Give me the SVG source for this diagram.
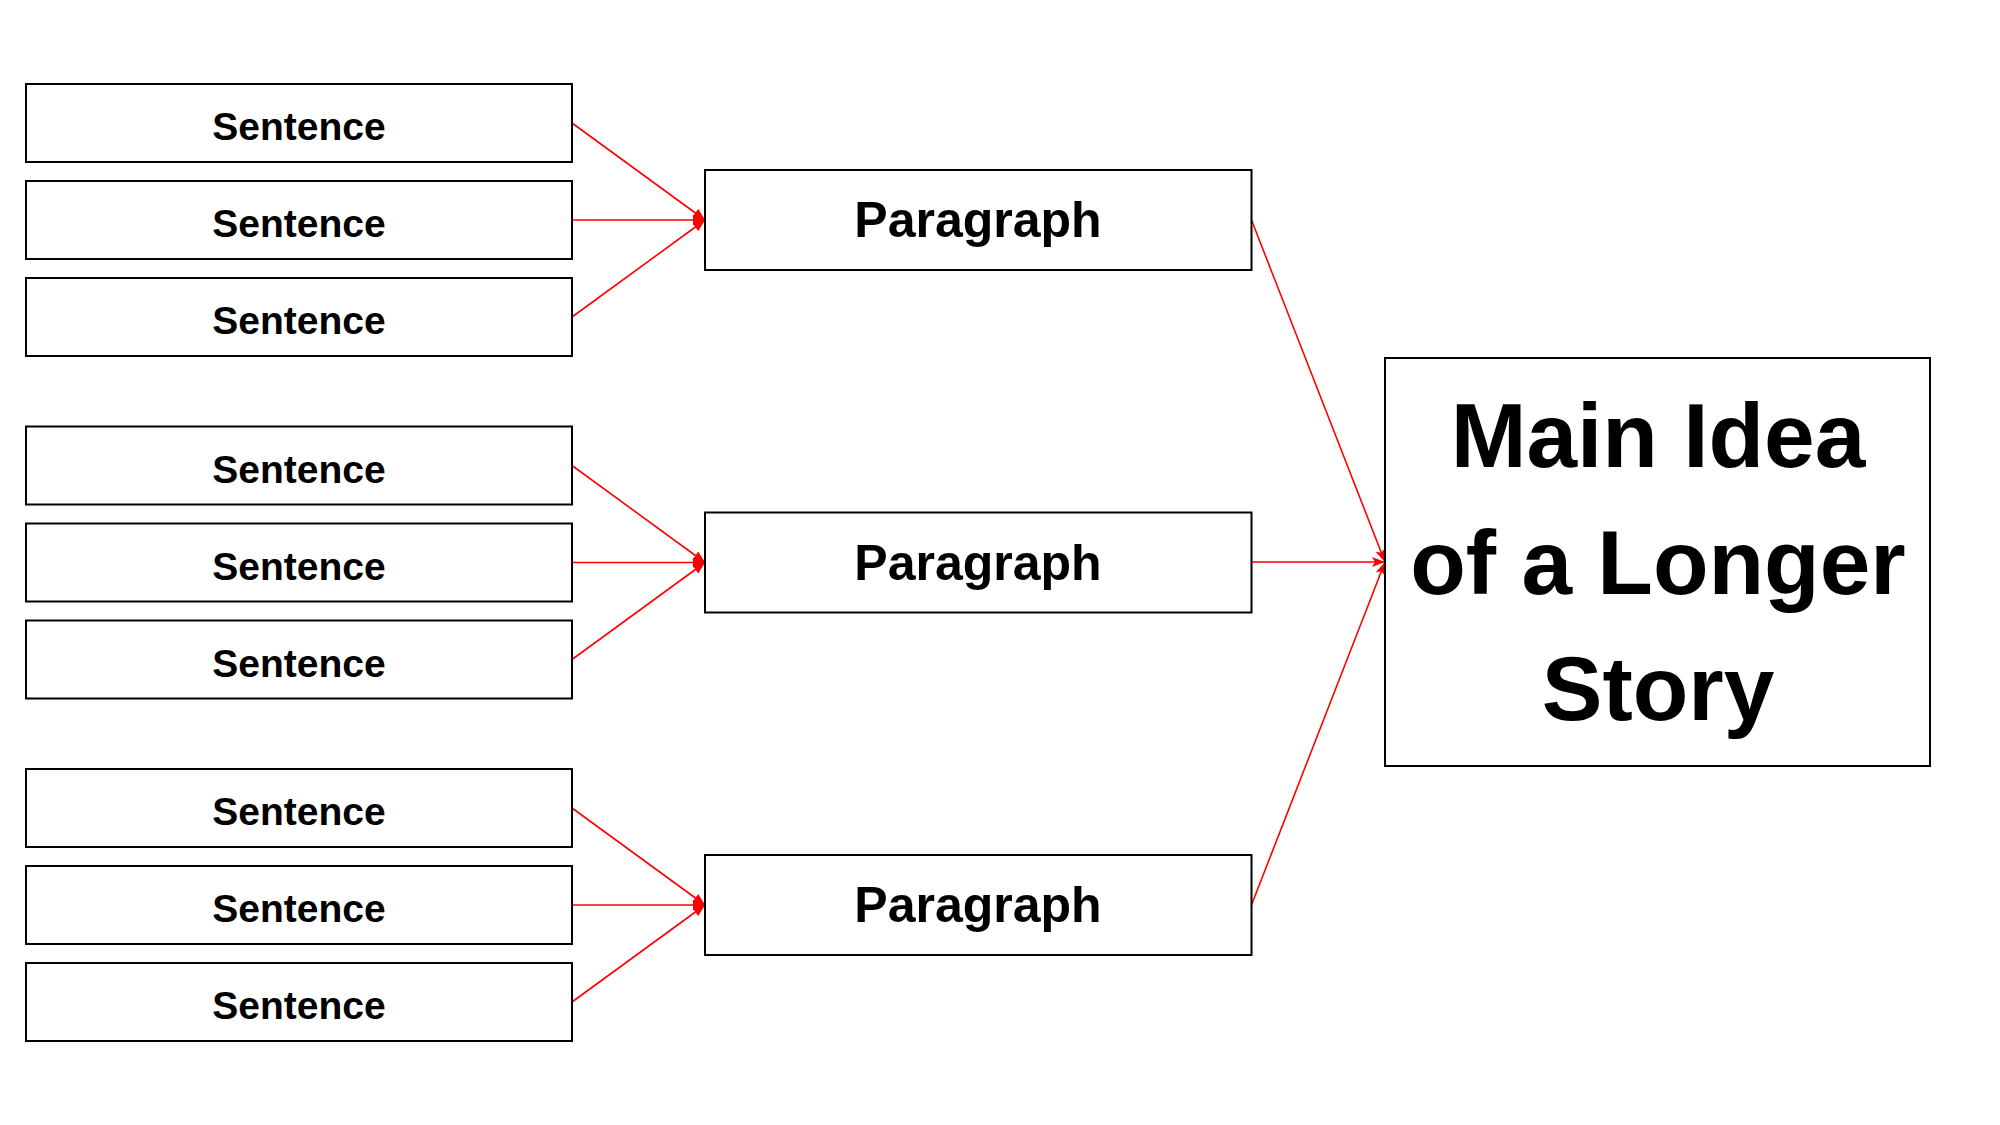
<svg xmlns="http://www.w3.org/2000/svg" width="2000" height="1125" viewBox="0 0 2000 1125">
<style>
.box{fill:#fff;stroke:#000;stroke-width:2}
.s{font-family:"Liberation Sans",Arial,sans-serif;font-weight:bold;font-size:39px;text-anchor:middle;fill:#000}
.p{font-family:"Liberation Sans",Arial,sans-serif;font-weight:bold;font-size:50px;text-anchor:middle;fill:#000}
.m{font-family:"Liberation Sans",Arial,sans-serif;font-weight:bold;font-size:91px;text-anchor:middle;fill:#000}
.c{stroke:#f00;stroke-width:1.6;fill:none}
.c1{marker-end:url(#tri)}
.c2{marker-end:url(#stealth)}
</style>
<defs>
<marker id="tri" markerWidth="12" markerHeight="10" refX="12" refY="5" orient="auto" markerUnits="userSpaceOnUse"><path d="M0,0 L12,5 L0,10 z" fill="#f00"/></marker>
<marker id="stealth" markerWidth="13" markerHeight="10" refX="13" refY="5" orient="auto" markerUnits="userSpaceOnUse"><path d="M0,0 L13,5 L0,10 L3,5 z" fill="#f00"/></marker>
</defs>
<rect width="2000" height="1125" fill="#fff"/>
<g id="connectors">
<line class="c c1" x1="572" y1="123" x2="705" y2="220"/>
<line class="c c1" x1="572" y1="220" x2="705" y2="220"/>
<line class="c c1" x1="572" y1="317" x2="705" y2="220"/>
<line class="c c1" x1="572" y1="465.5" x2="705" y2="562.5"/>
<line class="c c1" x1="572" y1="562.5" x2="705" y2="562.5"/>
<line class="c c1" x1="572" y1="659.5" x2="705" y2="562.5"/>
<line class="c c1" x1="572" y1="808" x2="705" y2="905"/>
<line class="c c1" x1="572" y1="905" x2="705" y2="905"/>
<line class="c c1" x1="572" y1="1002" x2="705" y2="905"/>
<line class="c c2" x1="1251.5" y1="220" x2="1385" y2="562"/>
<line class="c c2" x1="1251.5" y1="562" x2="1385" y2="562"/>
<line class="c c2" x1="1251.5" y1="905" x2="1385" y2="562"/>
</g>
<g id="s1"><rect class="box" x="26" y="84" width="546" height="78"/><text class="s" x="299" y="140">Sentence</text></g>
<g id="s2"><rect class="box" x="26" y="181" width="546" height="78"/><text class="s" x="299" y="237">Sentence</text></g>
<g id="s3"><rect class="box" x="26" y="278" width="546" height="78"/><text class="s" x="299" y="334">Sentence</text></g>
<g id="s4"><rect class="box" x="26" y="426.5" width="546" height="78"/><text class="s" x="299" y="482.5">Sentence</text></g>
<g id="s5"><rect class="box" x="26" y="523.5" width="546" height="78"/><text class="s" x="299" y="579.5">Sentence</text></g>
<g id="s6"><rect class="box" x="26" y="620.5" width="546" height="78"/><text class="s" x="299" y="676.5">Sentence</text></g>
<g id="s7"><rect class="box" x="26" y="769" width="546" height="78"/><text class="s" x="299" y="825">Sentence</text></g>
<g id="s8"><rect class="box" x="26" y="866" width="546" height="78"/><text class="s" x="299" y="922">Sentence</text></g>
<g id="s9"><rect class="box" x="26" y="963" width="546" height="78"/><text class="s" x="299" y="1019">Sentence</text></g>
<g id="p1"><rect class="box" x="705" y="170" width="546.5" height="100"/><text class="p" x="978" y="237">Paragraph</text></g>
<g id="p2"><rect class="box" x="705" y="512.5" width="546.5" height="100"/><text class="p" x="978" y="579.5">Paragraph</text></g>
<g id="p3"><rect class="box" x="705" y="855" width="546.5" height="100"/><text class="p" x="978" y="922">Paragraph</text></g>
<g id="main"><rect class="box" x="1385" y="358" width="545" height="408"/>
<text class="m" x="1658" y="466.5">Main Idea</text>
<text class="m" x="1658" y="593.5">of a Longer</text>
<text class="m" x="1658" y="720">Story</text></g>
</svg>
